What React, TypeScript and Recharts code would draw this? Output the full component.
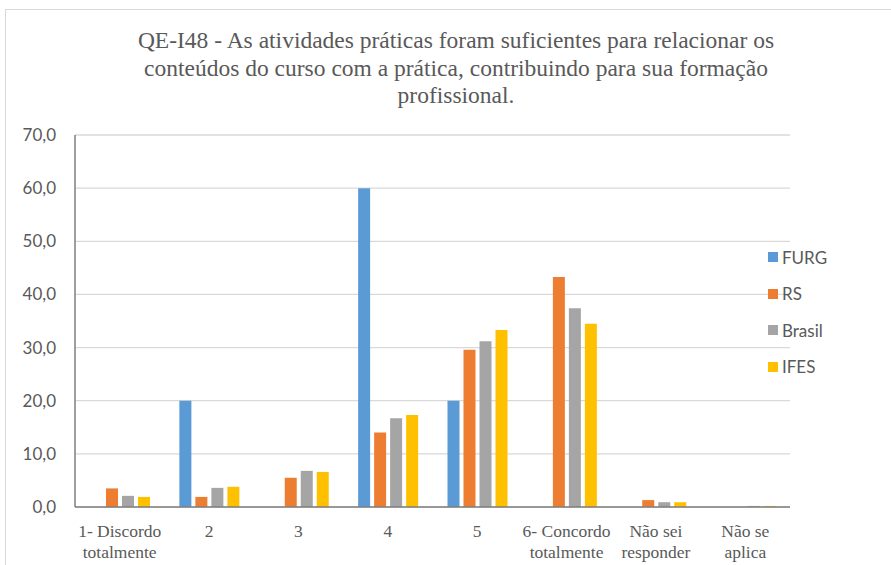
import React from "react";
import { BarChart, Bar, XAxis, YAxis, CartesianGrid, Legend } from "recharts";

const categories = [
  "1- Discordo totalmente",
  "2",
  "3",
  "4",
  "5",
  "6- Concordo totalmente",
  "Não sei responder",
  "Não se aplica",
];
const categoryLines = [
  ["1- Discordo", "totalmente"],
  ["2"],
  ["3"],
  ["4"],
  ["5"],
  ["6- Concordo", "totalmente"],
  ["Não sei", "responder"],
  ["Não se", "aplica"],
];
const furg = [0, 20, 0, 60, 20, 0, 0, 0];
const rs = [3.5, 1.9, 5.5, 14.0, 29.6, 43.3, 1.3, 0];
const brasil = [2.1, 3.6, 6.8, 16.7, 31.2, 37.4, 0.9, 0.2];
const ifes = [1.9, 3.8, 6.6, 17.3, 33.3, 34.5, 0.9, 0.2];
const yTicks = [0, 10, 20, 30, 40, 50, 60, 70];
const seriesNames = ["FURG", "RS", "Brasil", "IFES"];
const seriesColors = ["#5B9BD5", "#ED7D31", "#A5A5A5", "#FFC000"];
const title = [
  "QE-I48 - As atividades práticas foram suficientes para relacionar os",
  "conteúdos do curso com a prática, contribuindo para sua formação",
  "profissional.",
];

const data = categories.map((c, i) => ({
  name: c,
  idx: i,
  FURG: furg[i],
  RS: rs[i],
  Brasil: brasil[i],
  IFES: ifes[i],
}));

const XTick = (props: any) => {
  const { x, y, payload } = props;
  const lines = categoryLines[payload.index] || [String(payload.value)];
  return (
    <text
      x={x}
      y={y}
      textAnchor="middle"
      fill="#595959"
      fontFamily="Liberation Serif, Times New Roman, serif"
      fontSize={17.5}
    >
      {lines.map((l: string, i: number) => (
        <tspan key={i} x={x} dy={i === 0 ? 22 : 20.5}>
          {l}
        </tspan>
      ))}
    </text>
  );
};

const LegendContent = () => (
  <div style={{ fontFamily: "Lato, Liberation Sans, sans-serif", fontSize: 17, color: "#595959" }}>
    {seriesNames.map((n, i) => (
      <div key={n} style={{ display: "flex", alignItems: "center", height: 36.5 }}>
        <span
          style={{
            display: "inline-block",
            width: 10,
            height: 10,
            background: seriesColors[i],
            marginRight: 4,
          }}
        />
        <span>{n}</span>
      </div>
    ))}
  </div>
);

export default function App() {
  return (
    <div style={{ position: "absolute", left: 0, top: 0, width: 891, height: 565, background: "#fff", overflow: "hidden" }}>
      <div
        style={{
          position: "absolute",
          left: 5,
          top: 9,
          width: 900,
          height: 600,
          border: "1px solid #d9d9d9",
          boxSizing: "border-box",
        }}
      />
      <div
        style={{
          position: "absolute",
          left: 0,
          top: 27,
          width: 912,
          textAlign: "center",
          fontFamily: "Liberation Serif, Times New Roman, serif",
          fontSize: 23.5,
          lineHeight: "27.5px",
          color: "#595959",
        }}
      >
        {title.map((t, i) => (
          <div key={i}>{t}</div>
        ))}
      </div>
      <div style={{ position: "absolute", left: 0, top: 0 }}>
        <BarChart
          width={891}
          height={565}
          data={data}
          margin={{ top: 135, right: 101, bottom: 0, left: 0 }}
          barSize={12}
          barGap={4}
        >
          <CartesianGrid vertical={false} stroke="#d9d9d9" strokeWidth={1.3} />
          <XAxis
            dataKey="name"
            tick={<XTick />}
            tickLine={false}
            axisLine={{ stroke: "#7f7f7f", strokeWidth: 1.5 }}
            interval={0}
            height={58}
          />
          <YAxis
            width={75}
            domain={[0, 70]}
            ticks={yTicks}
            tickFormatter={(v: number) => v.toFixed(1).replace(".", ",")}
            tickLine={false}
            tickMargin={13}
            axisLine={{ stroke: "#7f7f7f", strokeWidth: 1.5 }}
            tick={{ fill: "#595959", fontSize: 17, fontFamily: "Lato, Liberation Sans, sans-serif" }}
          />
          <Legend
            layout="horizontal"
            align="center"
            verticalAlign="middle"
            content={<LegendContent />}
            wrapperStyle={{ position: "absolute", left: 768, top: 239, width: 110, height: 150 }}
          />
          {seriesNames.map((n, i) => (
            <Bar key={n} dataKey={n} fill={seriesColors[i]} isAnimationActive={false} />
          ))}
        </BarChart>
      </div>
    </div>
  );
}
